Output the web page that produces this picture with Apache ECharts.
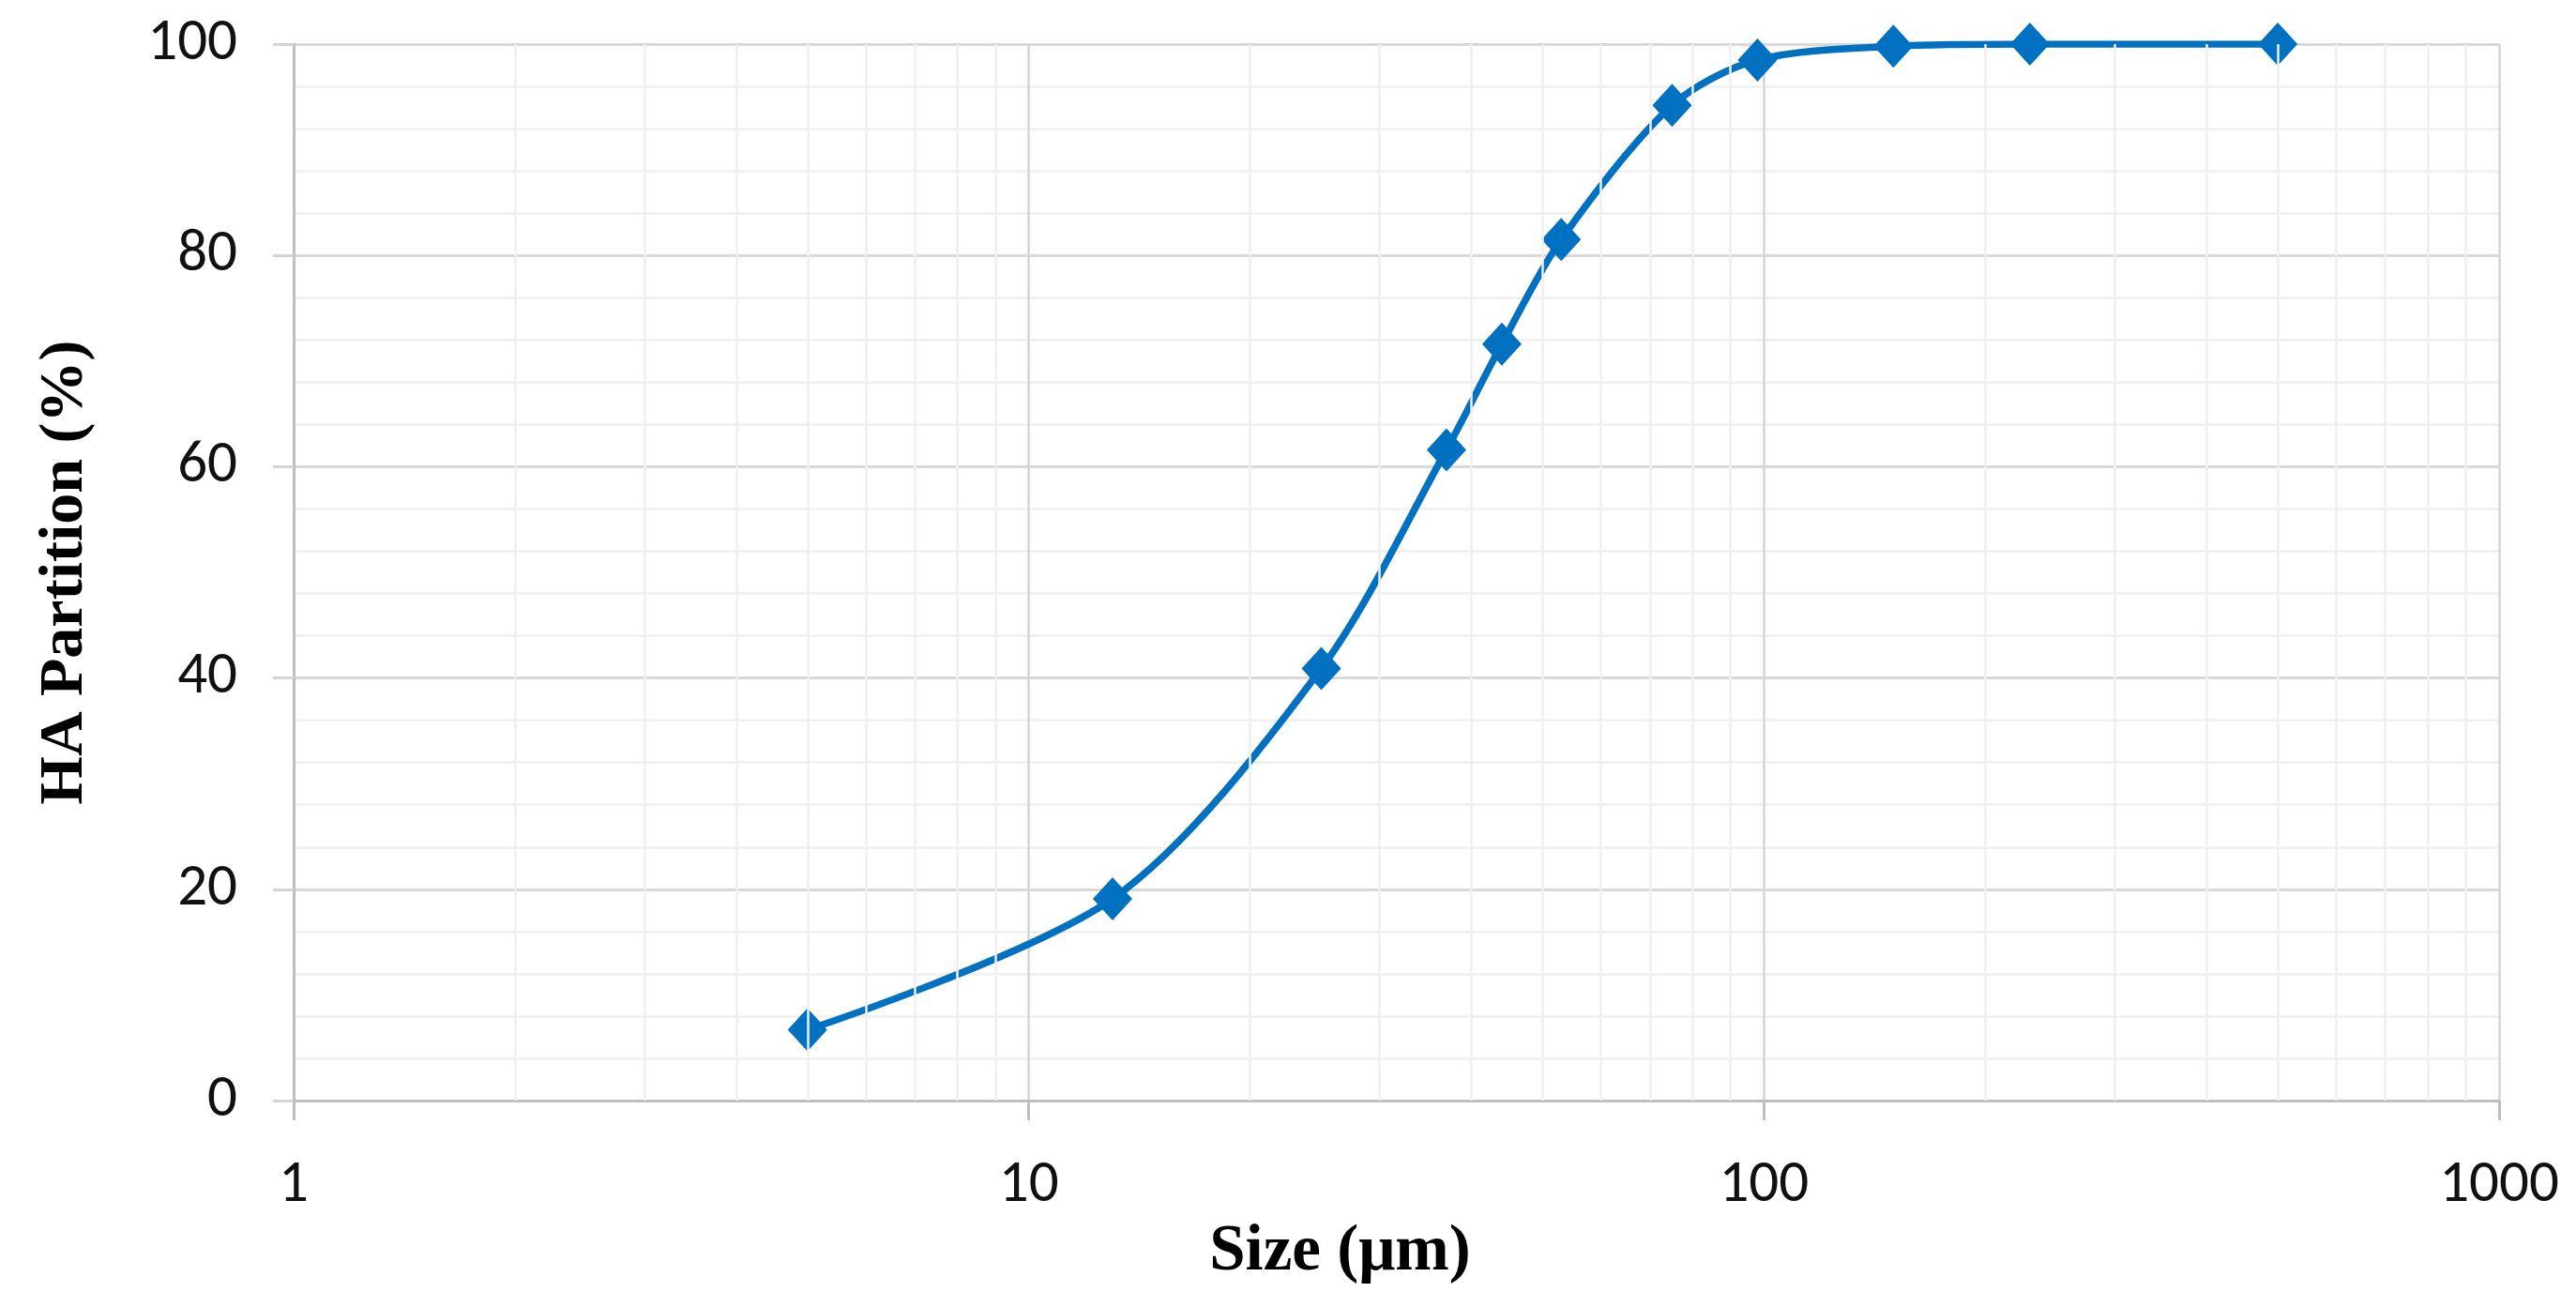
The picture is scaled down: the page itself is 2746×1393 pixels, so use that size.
<!DOCTYPE html>
<html>
<head>
<meta charset="utf-8">
<script src="https://cdn.jsdelivr.net/npm/echarts@6/dist/echarts.min.js"></script>
<style>
  html, body { margin: 0; padding: 0; background: #fff; }
  #chart { width: 2746px; height: 1393px; }
</style>
</head>
<body>
<div id="chart"></div>
<script>
// particle size (µm) and cumulative HA partition (%)
const sizes = [5, 13, 25, 37, 44, 53, 75, 98, 150, 230, 500];
const partition = [6.7, 19.1, 40.9, 61.6, 71.6, 81.5, 94.2, 98.5, 99.8, 100, 100];

// minor vertical grid lines of the log axis (2..9 in every decade)
const minorX = [];
[1, 10, 100].forEach(d => {
  for (let k = 2; k <= 9; k++) minorX.push(k * d);
});

const tickFont = "Carlito, 'Open Sans', sans-serif";
const titleFont = "'Liberation Serif', 'Times New Roman', serif";

const chart = echarts.init(document.getElementById('chart'));

const option = {
  animation: false,
  backgroundColor: '#fff',
  grid: { left: 313, right: 82, top: 47, bottom: 220 },
  xAxis: {
    type: 'log',
    logBase: 10,
    min: 1,
    max: 1000,
    name: 'Size (μm)',
    nameLocation: 'middle',
    nameGap: 122,
    nameTextStyle: {
      fontFamily: titleFont, fontWeight: 'bold', fontSize: 69, color: '#000',
      padding: [0, 120, 0, 0]
    },
    axisLine: { show: true, lineStyle: { color: '#bfbfbf', width: 3 } },
    axisTick: { show: true, length: 21, lineStyle: { color: '#bfbfbf', width: 3 } },
    axisLabel: {
      margin: 60, fontFamily: tickFont, fontSize: 63, color: '#111',
      formatter: v => String(v)
    },
    splitLine: { show: true, lineStyle: { color: '#d4d4d4', width: 2.5 } }
  },
  yAxis: {
    type: 'value',
    min: 0,
    max: 100,
    interval: 20,
    name: 'HA Partition (%)',
    nameLocation: 'middle',
    nameGap: 210,
    nameTextStyle: { fontFamily: titleFont, fontWeight: 'bold', fontSize: 66, color: '#000' },
    axisLine: { show: true, lineStyle: { color: '#bfbfbf', width: 3 } },
    axisTick: { show: true, length: 22, lineStyle: { color: '#d4d4d4', width: 3 } },
    axisLabel: { margin: 60, fontFamily: tickFont, fontSize: 63, color: '#111' },
    splitLine: { show: true, lineStyle: { color: '#d9d9d9', width: 3 } },
    minorTick: { show: false, splitNumber: 5 },
    minorSplitLine: { show: true, lineStyle: { color: '#efefef', width: 2.5 } }
  },
  series: [
    {
      // helper series carrying the minor vertical grid lines
      type: 'line',
      data: [],
      z: -1,
      silent: true,
      markLine: {
        silent: true,
        symbol: 'none',
        label: { show: false },
        lineStyle: { type: 'solid', color: '#efefef', width: 2.5 },
        data: minorX.map(v => ({ xAxis: v }))
      }
    },
    {
      type: 'line',
      data: sizes.map((s, i) => [s, partition[i]]),
      smooth: 0.3,
      symbol: 'diamond',
      symbolSize: [42, 46],
      lineStyle: { color: '#0070c0', width: 7.5 },
      itemStyle: { color: '#0070c0' },
      z: 3
    }
  ]
};

chart.setOption(option);
</script>
</body>
</html>
